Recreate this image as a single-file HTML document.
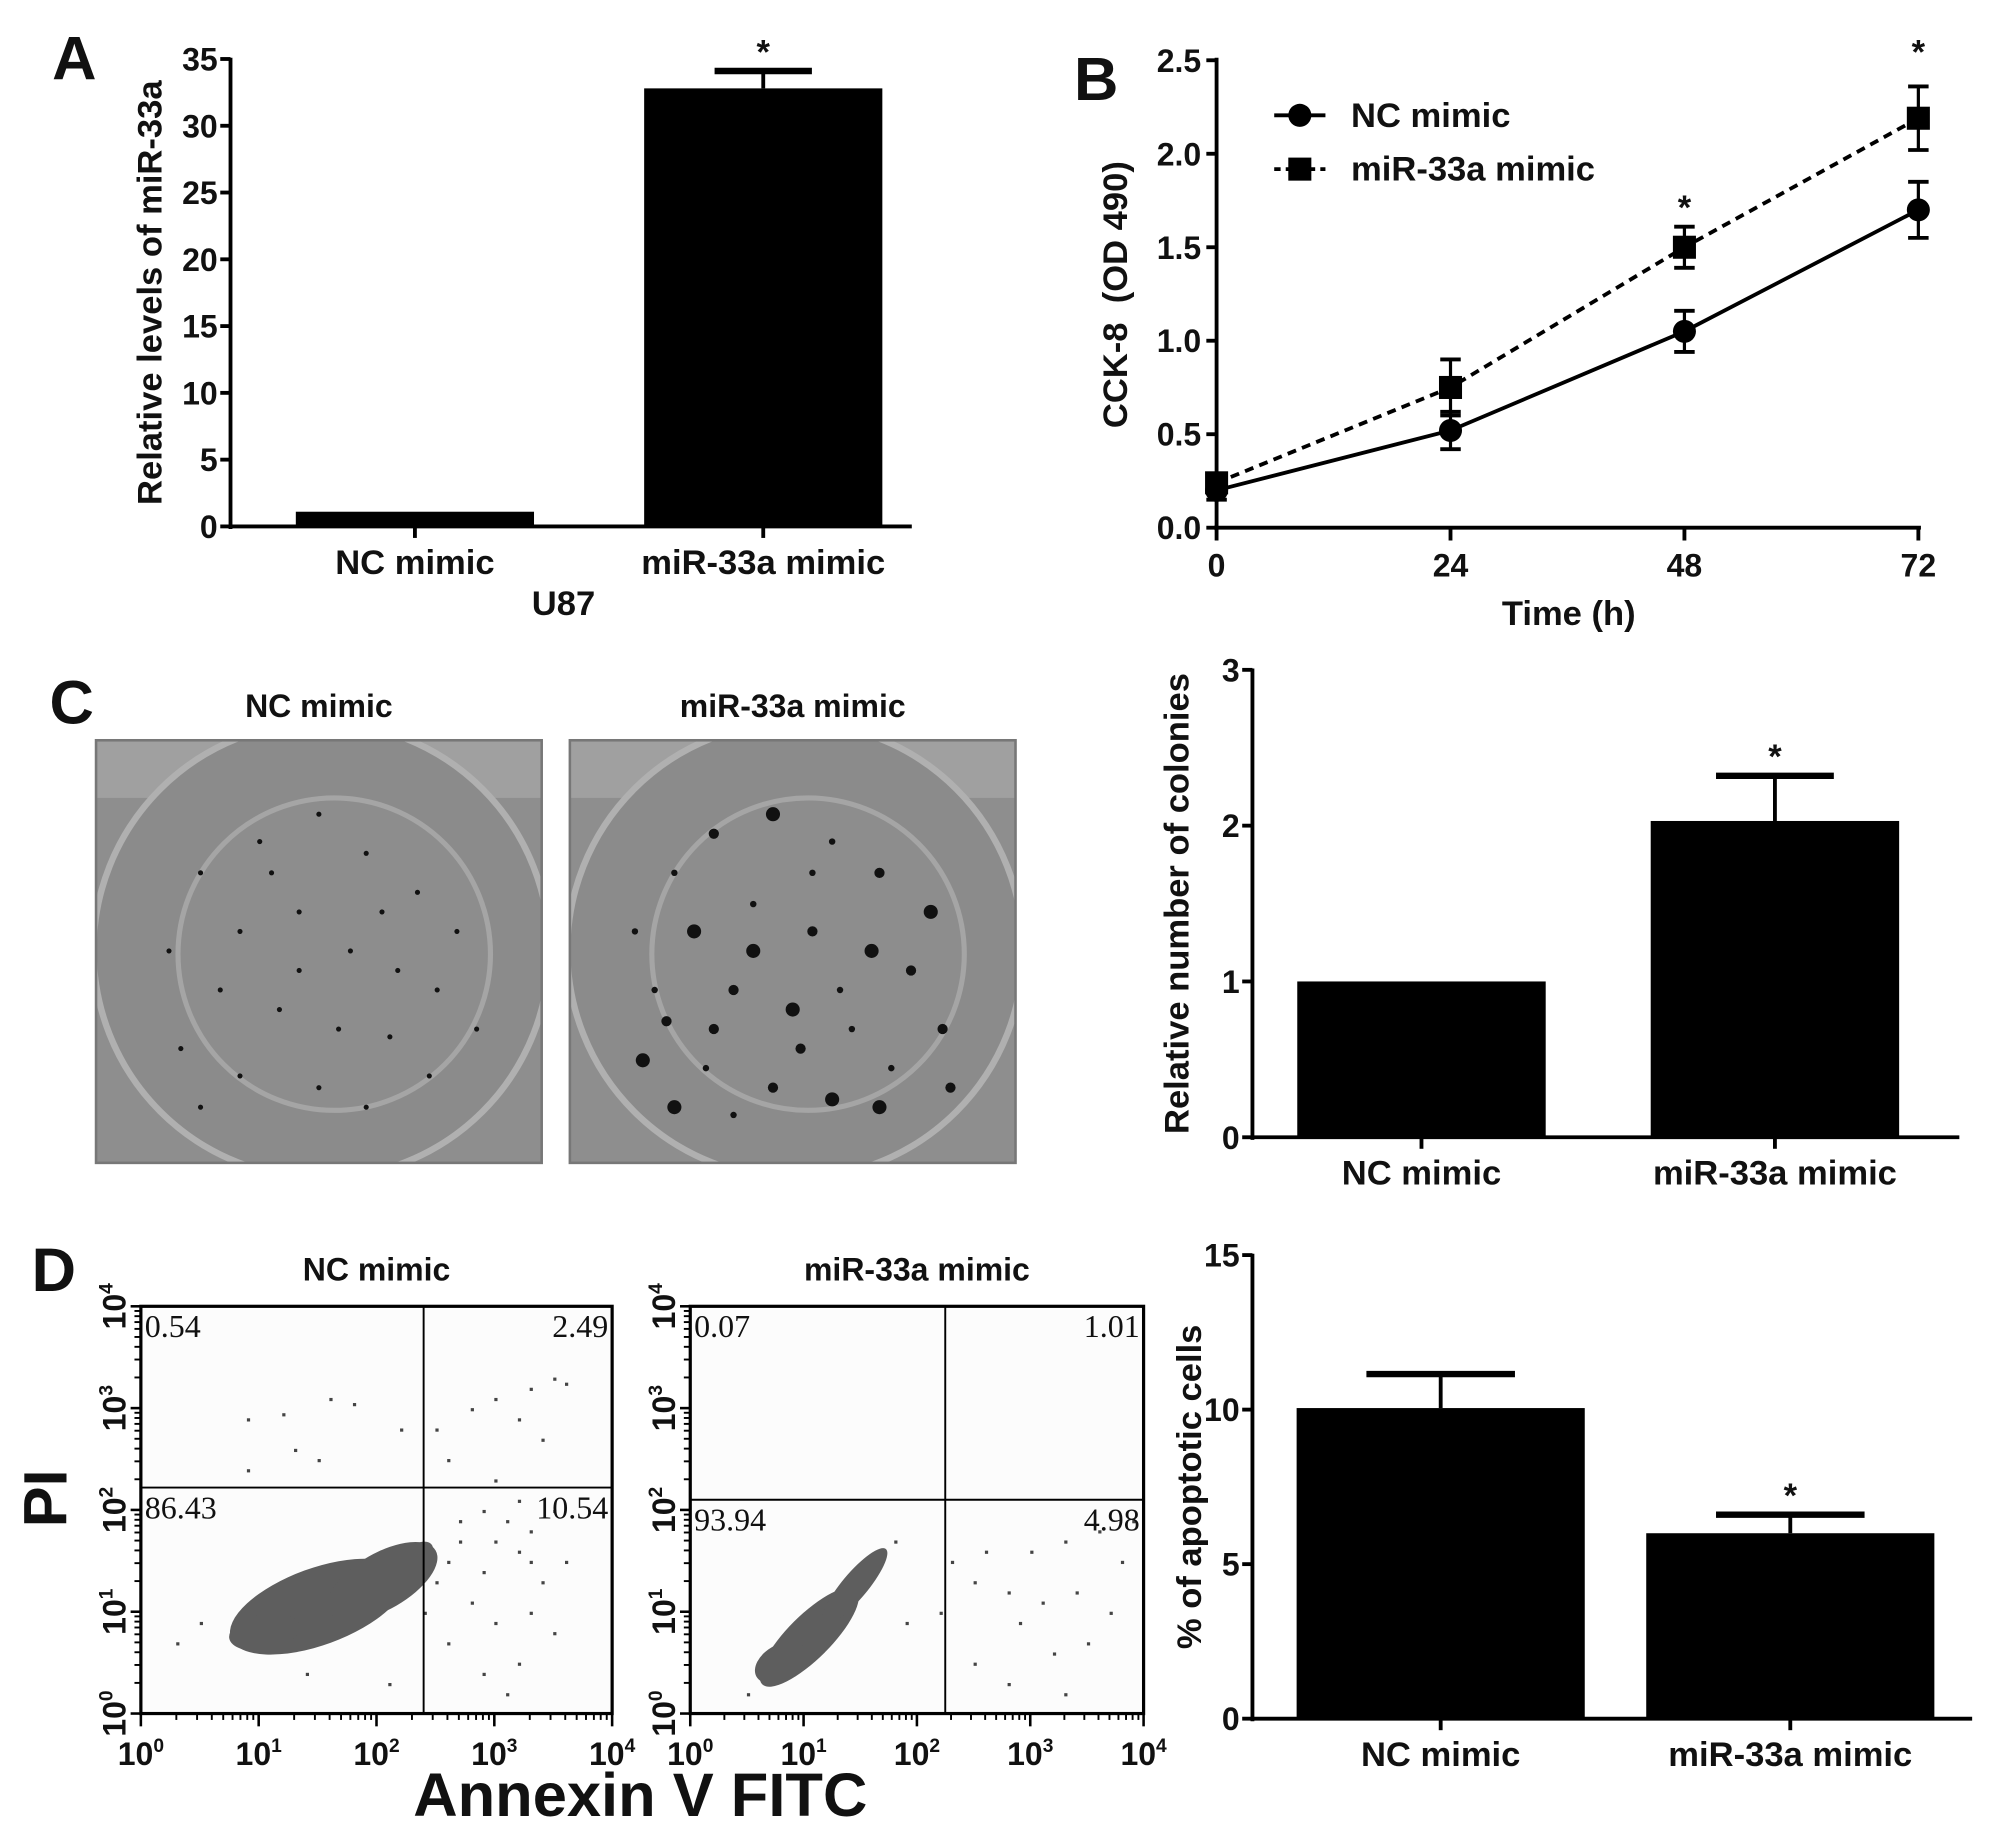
<!DOCTYPE html>
<html><head><meta charset="utf-8"><style>
html,body{margin:0;padding:0;background:#fff}
svg{display:block}
text{font-family:"Liberation Sans",Arial,sans-serif;font-weight:bold;fill:#111}
.t{font-size:25px}
.lab{font-size:27px}
.pan{font-size:48px}
.serif{font-family:"Liberation Serif",serif;font-weight:normal;font-size:25px}
</style></head><body>
<svg id="fig" xmlns="http://www.w3.org/2000/svg" width="2008" height="1834" viewBox="0 0 1568 1432">
<defs>
<clipPath id="clipNC"><rect x="75" y="578" width="348" height="330"/></clipPath>
<clipPath id="clipMiR"><rect x="445" y="578" width="348" height="330"/></clipPath>
</defs>
<g id="A"></g>
<g id="B"></g>
<g id="C"></g>
<g id="D"></g>
</svg>
<script>
// Panel A data
const aCats = ["NC mimic", "miR-33a mimic"];
const aVals = [1.1, 32.8];
const aErr = [0, 1.3];
const aTicks = [0,5,10,15,20,25,30,35];
// Panel B data
const bTimes = [0,24,48,72];
const bNC = [0.2,0.52,1.05,1.7];
const bNCerr = [0.05,0.1,0.11,0.15];
const bMiR = [0.24,0.75,1.5,2.19];
const bMiRerr = [0.05,0.15,0.11,0.17];
const bTicks = ["0.0","0.5","1.0","1.5","2.0","2.5"];
// Panel C data
const cCats = ["NC mimic", "miR-33a mimic"];
const cVals = [1.0, 2.03];
const cErr = [0, 0.29];
const cTicks = [0,1,2,3];
// Panel D data
const dCats = ["NC mimic", "miR-33a mimic"];
const dVals = [10.05, 6.0];
const dErr = [1.1, 0.6];
const dTicks = [0,5,10,15];
// Flow quadrant percentages
const flowNC = ["0.54","2.49","86.43","10.54"];
const flowMiR = ["0.07","1.01","93.94","4.98"];
// sparse flow events (log10 annexin, log10 PI)
const flowNCpts = [[0.9,2.9],[1.2,2.95],[1.6,3.1],[1.8,3.05],[2.2,2.8],[1.3,2.6],[0.9,2.4],[1.5,2.5],[2.5,2.8],[2.8,3.0],[3.0,3.1],[3.3,3.2],[3.5,3.3],[3.6,3.25],[3.2,2.9],[3.4,2.7],[2.6,2.5],[3.0,2.3],[2.9,2.0],[3.1,1.9],[3.3,1.8],[3.5,2.0],[3.2,1.6],[2.7,1.7],[2.5,1.3],[2.8,1.1],[3.0,0.9],[3.3,1.0],[2.6,0.7],[2.9,0.4],[3.2,0.5],[3.5,0.8],[2.4,1.0],[3.1,0.2],[0.3,0.7],[0.5,0.9],[1.4,0.4],[2.1,0.3],[3.6,1.5],[3.4,1.3],[2.7,1.9],[3.0,1.7],[3.2,2.1],[2.6,1.5],[2.9,1.4],[3.3,1.5]];
const flowMiRpts = [[3.9,1.9],[3.6,1.8],[3.3,1.7],[3.0,1.6],[2.6,1.6],[2.3,1.5],[2.5,1.3],[2.8,1.2],[3.1,1.1],[3.4,1.2],[3.7,1.0],[3.5,0.7],[3.2,0.6],[2.5,0.5],[2.8,0.3],[3.3,0.2],[2.2,1.0],[1.9,0.9],[1.8,1.7],[3.8,1.5],[2.9,0.9],[0.5,0.2]];
// colony spots (relative to photo 0-1)
const colNC = [[.2,.3],[.35,.22],[.5,.15],[.62,.25],[.75,.35],[.3,.45],[.45,.4],[.58,.5],[.7,.55],[.25,.6],[.4,.65],[.55,.7],[.68,.72],[.8,.6],[.15,.75],[.3,.82],[.5,.85],[.62,.9],[.45,.55],[.85,.45],[.12,.5],[.9,.7],[.2,.9],[.78,.82],[.38,.3],[.66,.4]];
const colMiR = [[.2,.3],[.3,.2],[.45,.15],[.6,.22],[.72,.3],[.25,.45],[.4,.38],[.55,.45],[.7,.5],[.15,.6],[.35,.6],[.5,.65],[.65,.7],[.8,.55],[.12,.78],[.28,.8],[.45,.85],[.6,.88],[.75,.8],[.88,.7],[.2,.9],[.35,.92],[.52,.75],[.85,.4],[.1,.45],[.9,.85],[.4,.5],[.62,.6],[.3,.7],[.72,.9],[.55,.3],[.18,.68]];

const NS="http://www.w3.org/2000/svg";
function mk(parent,tag,attrs,name,txt){
  const e=document.createElementNS(NS,tag);
  for(const k in attrs)e.setAttribute(k,attrs[k]);
  
  
  if(txt!==undefined)e.textContent=txt;
  parent.appendChild(e);return e;
}
function line(p,x1,y1,x2,y2,w,name,dash){const a={x1,y1,x2,y2,stroke:'#000','stroke-width':w};if(dash)a['stroke-dasharray']=dash;return mk(p,'line',a,name);}
function txt(p,x,y,s,cls,name,anchor,extra){const a={x,y,class:cls,'text-anchor':anchor||'middle'};Object.assign(a,extra||{});return mk(p,'text',a,name,s);}

function barChart(g,o){
  const y=v=>o.y0-(v-o.min)/(o.max-o.min)*(o.y0-o.y1);
  line(g,o.ax,o.y1-1,o.ax,o.y0+2,3,'y-axis');
  line(g,o.ax,o.y0,o.xend,o.y0,3,'x-axis');
  o.ticks.forEach(t=>{line(g,o.ax-8,y(t),o.ax,y(t),3,'y-tick');txt(g,o.ax-10,y(t)+9,String(t),'t','y-tick-label','end');});
  o.vals.forEach((v,i)=>{
    const cx=o.cx[i];
    mk(g,'rect',{x:cx-o.bw/2,y:y(v),width:o.bw,height:o.y0-y(v),fill:'#000'},'bar-'+i);
    if(o.err[i]>0){line(g,cx,y(v),cx,y(v+o.err[i]),3,'error-bar');line(g,cx-o.cap,y(v+o.err[i]),cx+o.cap,y(v+o.err[i]),5,'error-cap');}
    line(g,cx,o.y0,cx,o.y0+9,3,'x-tick');
    txt(g,cx,o.y0+37,o.cats[i],'lab','x-tick-label');
    if(o.star[i])txt(g,cx,y(v+o.err[i])-6,'*','lab','significance-star');
  });
  txt(g,0,0,o.ylabel,'lab','y-axis-title','middle',{transform:`translate(${o.ylx},${(o.y0+o.y1)/2}) rotate(-90)`});
}

// Panel A
const A=document.getElementById('A');
txt(A,58,62,'A','pan','panel-label-a');
barChart(A,{ax:180,y0:411,y1:46,min:0,max:35,ticks:aTicks,vals:aVals,err:aErr,cats:aCats,cx:[324,596],bw:186,cap:38,xend:712,star:[0,1],ylabel:'Relative levels of miR-33a',ylx:126});
txt(A,440,480,'U87','lab','x-axis-title');

// Panel B
const B=document.getElementById('B');
txt(B,856,78,'B','pan','panel-label-b');
const bx=t=>950+t/72*548, by=v=>412-v/2.5*365;
line(B,950,45,950,414,3,'y-axis');line(B,948,412,1500,412,3,'x-axis');
bTicks.forEach(t=>{const v=parseFloat(t);line(B,942,by(v),950,by(v),3,'y-tick');txt(B,938,by(v)+9,t,'t','y-tick-label','end');});
bTimes.forEach(t=>{line(B,bx(t),412,bx(t),422,3,'x-tick');txt(B,bx(t),450,String(t),'t','x-tick-label');});
txt(B,1225,488,'Time (h)','lab','x-axis-title');
txt(B,0,0,'CCK-8\u00a0\u00a0(OD 490)','lab','y-axis-title','middle',{transform:'translate(880,230) rotate(-90)'});
function series(data,err,dash,shape,name){
  mk(B,'polyline',{points:data.map((v,i)=>bx(bTimes[i])+','+by(v)).join(' '),fill:'none',stroke:'#000','stroke-width':3,'stroke-dasharray':dash||'none'},name+'-line');
  data.forEach((v,i)=>{const x=bx(bTimes[i]);
    line(B,x,by(v-err[i]),x,by(v+err[i]),2.5,name+'-error');
    line(B,x-8,by(v-err[i]),x+8,by(v-err[i]),3,name+'-error-cap');line(B,x-8,by(v+err[i]),x+8,by(v+err[i]),3,name+'-error-cap');
    if(shape==='c')mk(B,'circle',{cx:x,cy:by(v),r:9,fill:'#000'},name+'-point');
    else mk(B,'rect',{x:x-9,y:by(v)-9,width:18,height:18,fill:'#000'},name+'-point');
  });
}
series(bMiR,bMiRerr,'7 5','s','mir33a-series');
series(bNC,bNCerr,null,'c','nc-series');
txt(B,bx(48),by(bMiR[2]+bMiRerr[2])-6,'*','lab','significance-star');
txt(B,bx(72),by(bMiR[3]+bMiRerr[3])-18,'*','lab','significance-star');
line(B,995,90,1035,90,3,'legend-nc-line');mk(B,'circle',{cx:1015,cy:90,r:9,fill:'#000'},'legend-nc-marker');
txt(B,1055,99,'NC mimic','lab','legend-nc-label','start');
line(B,995,132,1035,132,3,'legend-mir-line','5 4');mk(B,'rect',{x:1006,y:123,width:18,height:18,fill:'#000'},'legend-mir-marker');
txt(B,1055,141,'miR-33a mimic','lab','legend-mir-label','start');

// Panel C
const C=document.getElementById('C');
txt(C,56,565,'C','pan','panel-label-c');
function photo(x,title,spots,big,name,clip){
  const g=mk(C,'g',{},name);
  txt(g,x+174,560,title,'t','photo-title');
  const p=mk(g,'g',{'clip-path':`url(#${clip})`},'photo-image');
  mk(p,'rect',{x:x,y:578,width:348,height:330,fill:'#8e8e8e'},'photo-background');
  mk(p,'rect',{x:x,y:578,width:348,height:45,fill:'#a0a0a0'},'photo-top-edge');
  mk(p,'circle',{cx:x+176,cy:742,r:178,fill:'#8b8b8b',stroke:'#b0b0b0','stroke-width':5},'well-outer');
  mk(p,'circle',{cx:x+186,cy:745,r:122,fill:'#8d8d8d',stroke:'#a5a5a5','stroke-width':4},'well-inner');
  spots.forEach((s,i)=>mk(p,'circle',{cx:x+20+s[0]*308,cy:590+s[1]*305,r:big?(2.5+(i%3)*1.5):2,fill:'#111'},'colony'));
  mk(g,'rect',{x:x,y:578,width:348,height:330,fill:'none',stroke:'#777','stroke-width':2},'photo-border');
}
photo(75,'NC mimic',colNC,false,'photo-nc','clipNC');
photo(445,'miR-33a mimic',colMiR,true,'photo-mir33a','clipMiR');
barChart(C,{ax:978,y0:888,y1:523,min:0,max:3,ticks:cTicks,vals:cVals,err:cErr,cats:cCats,cx:[1110,1386],bw:194,cap:46,xend:1530,star:[0,1],ylabel:'Relative number of colonies',ylx:928});

// Panel D
const D=document.getElementById('D');
txt(D,42,1008,'D','pan','panel-label-d');
function flow(x0,x1,qx,qy,pcts,pts,cloud,title,name){
  const g=mk(D,'g',{},name);
  const yT=1020,yB=1338;
  const sx=v=>x0+v/4*(x1-x0), sy=v=>yB-v/4*(yB-yT);
  txt(g,(x0+x1)/2,1000,title,'t','flow-title');
  mk(g,'rect',{x:x0,y:yT,width:x1-x0,height:yB-yT,fill:'#fcfcfc',stroke:'#000','stroke-width':2.5},'flow-plot-area');
  cloud.forEach(c=>mk(g,'ellipse',{cx:sx(c[0]),cy:sy(c[1]),rx:c[2],ry:c[3],fill:'#5e5e5e',transform:`rotate(${c[4]} ${sx(c[0])} ${sy(c[1])})`},'event-cloud'));
  pts.forEach(p=>mk(g,'rect',{x:sx(p[0]),y:sy(p[1]),width:2.5,height:2.5,fill:'#444'},'event'));
  line(g,sx(qx),yT,sx(qx),yB,1.5,'quadrant-vertical');line(g,x0,sy(qy),x1,sy(qy),1.5,'quadrant-horizontal');
  txt(g,x0+3,yT+24,pcts[0],'serif','quadrant-ul','start');txt(g,x1-3,yT+24,pcts[1],'serif','quadrant-ur','end');
  txt(g,x0+3,sy(qy)+24,pcts[2],'serif','quadrant-ll','start');txt(g,x1-3,sy(qy)+24,pcts[3],'serif','quadrant-lr','end');
  for(let d=0;d<=4;d++){
    const lx=sx(d);
    line(g,lx,yB,lx,yB+10,2,'x-tick');
    const t=txt(g,lx,1378,'10','t','x-tick-label');
    mk(t,'tspan',{dy:-10,'font-size':15},'exponent',String(d));
    const ly=sy(d);
    line(g,x0-8,ly,x0,ly,2,'y-tick');
    const ty=txt(g,0,0,'10','t','y-tick-label','middle',{transform:`translate(${x0-12},${ly}) rotate(-90)`});
    mk(ty,'tspan',{dy:-10,'font-size':15},'exponent',String(d));
    if(d<4)for(let m=2;m<10;m++){const v=d+Math.log10(m);line(g,sx(v),yB,sx(v),yB+5,1.5,'minor-tick');line(g,x0-5,sy(v),x0,sy(v),1.5,'minor-tick');}
  }
}
flow(110,478,2.4,2.22,flowNC,flowNCpts,[[1.5,1.05,72,30,-20],[2.05,1.3,48,22,-30],[1.05,0.8,28,14,-10],[2.3,1.5,20,10,-40]],'NC mimic','flow-nc');
flow(539,893,2.25,2.1,flowMiR,flowMiRpts,[[1.05,0.75,52,17,-45],[1.45,1.25,38,10,-50],[0.8,0.5,22,14,-30]],'miR-33a mimic','flow-mir33a');
txt(D,0,0,'PI','pan','y-axis-title','middle',{transform:'translate(52,1170) rotate(-90)','font-size':42});
txt(D,500,1418,'Annexin V FITC','pan','x-axis-title','middle',{'font-size':42});
barChart(D,{ax:978,y0:1342,y1:980,min:0,max:15,ticks:dTicks,vals:dVals,err:dErr,cats:dCats,cx:[1125,1398],bw:225,cap:58,xend:1540,star:[0,1],ylabel:'% of apoptotic cells',ylx:938});
</script>
</body></html>
